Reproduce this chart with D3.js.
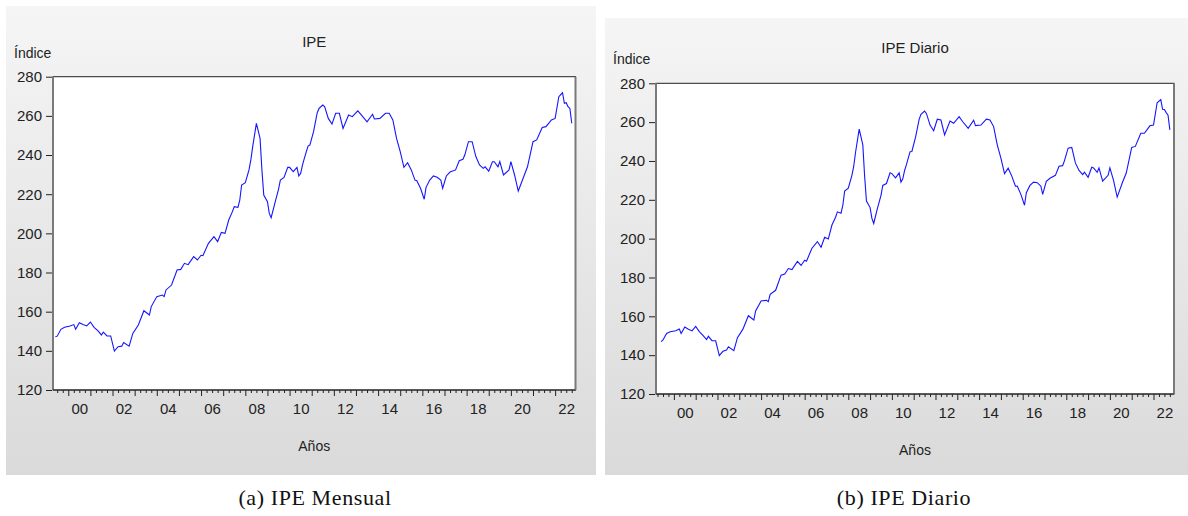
<!DOCTYPE html>
<html>
<head>
<meta charset="utf-8">
<script src="https://cdn.jsdelivr.net/npm/d3@7"></script>
<style>
  body { margin: 0; background: #fff; }
  svg { display: block; }
</style>
</head>
<body>
<svg id="chart" width="1188" height="516"></svg>
<script>
// valores (a) IPE Mensual
var fechasMensual = ["1999-06","1999-07","1999-09","1999-11","2000-02","2000-04","2000-05","2000-07","2000-09","2000-11",
  "2001-01","2001-03","2001-05","2001-07","2001-08","2001-10","2001-12","2002-02","2002-04","2002-06",
  "2002-07","2002-10","2002-12","2003-03","2003-06","2003-09","2003-10","2004-01","2004-04","2004-05",
  "2004-06","2004-09","2004-12","2005-02","2005-04","2005-06","2005-09","2005-11","2006-01","2006-02",
  "2006-05","2006-08","2006-10","2006-12","2007-02","2007-04","2007-06","2007-07","2007-09","2007-10",
  "2007-11","2008-01","2008-03","2008-04","2008-05","2008-07","2008-09","2008-10","2008-11","2009-01",
  "2009-02","2009-03","2009-05","2009-07","2009-08","2009-10","2009-12","2010-01","2010-03","2010-05",
  "2010-06","2010-07","2010-08","2010-09","2010-11","2010-12","2011-02","2011-04","2011-05","2011-07",
  "2011-08","2011-10","2011-12","2012-02","2012-04","2012-06","2012-09","2012-11","2013-02","2013-04",
  "2013-07","2013-10","2013-11","2014-02","2014-05","2014-07","2014-09","2014-11","2015-01","2015-03",
  "2015-05","2015-07","2015-09","2015-10","2015-12","2016-02","2016-03","2016-05","2016-07","2016-09",
  "2016-11","2016-12","2017-02","2017-04","2017-07","2017-09","2017-11","2017-12","2018-02","2018-04",
  "2018-06","2018-08","2018-10","2018-11","2019-01","2019-03","2019-04","2019-06","2019-07","2019-09",
  "2019-12","2020-01","2020-03","2020-05","2020-08","2020-10","2021-01","2021-03","2021-06","2021-08",
  "2021-11","2022-01","2022-03","2022-05","2022-06","2022-07","2022-08","2022-09","2022-10"];
var ipeMensual = [147.2,147.5,151.0,152.0,152.7,153.4,151.0,154.4,153.4,152.7,
  154.7,152.0,150.3,148.1,149.6,147.6,147.6,139.9,142.1,142.4,
  144.2,142.4,148.9,153.2,160.5,158.3,162.6,167.7,168.5,167.7,
  171.1,173.6,181.3,181.6,184.7,184.0,188.1,186.4,188.8,188.6,
  194.9,198.3,195.8,200.5,200.0,206.8,211.1,213.6,213.3,217.0,
  224.7,225.9,232.4,237.5,244.3,256.2,248.5,232.4,219.6,216.2,
  210.2,208.0,215.3,222.5,227.2,228.6,233.7,233.7,231.5,233.7,
  229.3,230.6,234.9,238.3,244.6,245.1,251.9,261.6,263.8,265.5,
  264.7,258.7,255.8,261.3,261.3,253.6,260.4,259.6,262.6,260.4,
  257.0,260.8,258.4,258.7,261.3,261.3,257.9,248.5,241.7,233.7,
  236.1,232.4,227.2,226.9,223.0,217.4,223.5,227.2,229.3,228.6,
  227.2,223.0,229.3,231.3,232.4,237.1,237.8,240.0,246.8,246.8,
  239.2,234.9,233.2,234.0,231.8,236.6,236.6,234.0,236.6,229.8,
  232.4,236.6,229.8,221.6,229.0,234.0,246.8,247.7,254.1,254.5,
  257.9,258.7,269.8,271.8,266.4,266.7,264.7,263.8,256.2];

// valores (b) IPE Diario
var fechasDiario = fechasMensual.slice();
var ipeDiario = [147.0,147.8,151.2,152.1,152.6,153.5,151.2,154.5,153.3,152.5,
  154.8,152.1,150.2,148.0,149.7,147.5,147.4,139.8,142.0,142.6,
  144.3,142.3,149.0,153.4,160.3,158.1,162.8,167.9,168.3,167.6,
  171.3,173.4,181.2,181.8,184.6,184.1,188.3,186.2,188.9,188.4,
  195.1,198.5,195.6,200.7,199.8,207.0,211.0,213.8,213.1,217.2,
  224.5,226.0,232.6,237.3,244.5,256.4,248.3,232.0,219.4,216.0,
  210.4,207.8,215.5,222.3,227.4,228.4,233.9,233.5,231.3,233.9,
  229.1,230.8,235.1,238.1,244.8,244.9,252.1,261.4,264.0,265.7,
  264.5,258.5,255.6,261.5,261.1,253.4,260.6,259.4,262.8,260.2,
  256.8,261.0,258.2,258.5,261.5,261.1,257.7,248.3,241.5,233.5,
  236.3,232.2,227.0,227.1,222.8,217.2,223.7,227.4,229.1,228.8,
  227.0,222.8,229.5,231.1,232.6,237.3,237.6,240.2,246.6,247.0,
  239.0,235.1,233.0,234.2,231.6,236.8,236.4,234.2,236.4,229.6,
  232.6,236.4,230.0,221.4,229.2,233.8,247.0,247.5,254.3,254.3,
  258.1,258.5,270.0,271.6,266.6,266.5,264.9,263.6,256.0];

var ticksY = [120, 140, 160, 180, 200, 220, 240, 260, 280];
var etiquetasAnios = ["00","02","04","06","08","10","12","14","16","18","20","22"];

var paneles = [
  { fondo: [6, 6, 590, 469], plot: [53, 76.7, 575.5, 390], dominio: [1999.31, 2022.92],
    titulo: "IPE", leyenda: "(a) IPE Mensual", leyendaX: 315,
    fechas: fechasMensual, valores: ipeMensual },
  { fondo: [605, 18, 583, 457], plot: [656, 83.3, 1174, 394], dominio: [1999.18, 2022.94],
    titulo: "IPE Diario", leyenda: "(b) IPE Diario", leyendaX: 904,
    fechas: fechasDiario, valores: ipeDiario }
];

var svg = d3.select("#chart");
var sans = "Liberation Sans, Arial, sans-serif";

var grad = svg.append("defs").append("linearGradient")
    .attr("id", "fondo-gris").attr("x1", 0).attr("y1", 0).attr("x2", 0).attr("y2", 1);
grad.append("stop").attr("offset", "0%").attr("stop-color", "#f5f5f5");
grad.append("stop").attr("offset", "100%").attr("stop-color", "#dadada");

function aDecimal(s) {
  var p = s.split("-");
  return +p[0] + (+p[1] - 1) / 12;
}

paneles.forEach(function(p) {
  var x0 = p.plot[0], y0 = p.plot[1], x1 = p.plot[2], y1 = p.plot[3];
  var cx = (x0 + x1) / 2;

  var x = d3.scaleLinear().domain(p.dominio).range([x0, x1]);
  var y = d3.scaleLinear().domain([120, 280]).range([y1, y0]);

  svg.append("rect")
      .attr("x", p.fondo[0]).attr("y", p.fondo[1])
      .attr("width", p.fondo[2]).attr("height", p.fondo[3])
      .attr("fill", "url(#fondo-gris)");

  svg.append("rect")
      .attr("x", x0).attr("y", y0)
      .attr("width", x1 - x0).attr("height", y1 - y0)
      .attr("fill", "#fff").attr("stroke", "#222").attr("stroke-width", 1);

  // bordes grises a la izquierda y derecha
  svg.append("line").attr("x1", x0).attr("x2", x0).attr("y1", y0).attr("y2", y1)
      .attr("stroke", "#7a7a7a").attr("stroke-width", 2);
  svg.append("line").attr("x1", x1).attr("x2", x1).attr("y1", y0).attr("y2", y1)
      .attr("stroke", "#7a7a7a").attr("stroke-width", 2);

  // eje Y
  var ejeY = d3.axisLeft(y).tickValues(ticksY).tickSize(6).tickPadding(4)
      .tickFormat(d3.format("d"));
  var gy = svg.append("g").attr("transform", "translate(" + (x0 - 1) + ",0)").call(ejeY);
  gy.select(".domain").remove();

  // eje X: ticks mayores por año, menores por trimestre
  var anios = d3.range(Math.ceil(p.dominio[0]), Math.floor(p.dominio[1]) + 1);
  var trimestres = d3.range(Math.ceil(p.dominio[0] * 4), Math.floor(p.dominio[1] * 4) + 1)
      .map(function(q) { return q / 4; })
      .filter(function(v) { return v % 1 !== 0; });

  var gMenor = svg.append("g").attr("transform", "translate(0," + y1 + ")")
      .call(d3.axisBottom(x).tickValues(trimestres).tickSize(3).tickFormat(""));
  gMenor.select(".domain").remove();
  var gMayor = svg.append("g").attr("transform", "translate(0," + y1 + ")")
      .call(d3.axisBottom(x).tickValues(anios).tickSize(6).tickFormat(""));
  gMayor.select(".domain").remove();

  var posEtiquetas = etiquetasAnios.map(function(e) { return 2000 + (+e) + 0.5; });
  var gEtiq = svg.append("g").attr("transform", "translate(0," + y1 + ")")
      .call(d3.axisBottom(x).tickValues(posEtiquetas).tickSize(0).tickPadding(13)
        .tickFormat(function(d, i) { return etiquetasAnios[i]; }));
  gEtiq.select(".domain").remove();

  svg.append("line").attr("x1", x0).attr("x2", x1).attr("y1", y1).attr("y2", y1)
      .attr("stroke", "#222").attr("stroke-width", 1);

  svg.selectAll(".tick line").attr("stroke", "#222");
  svg.selectAll(".tick text")
      .attr("font-family", sans).attr("font-size", 15).attr("fill", "#222");

  // serie
  var datos = p.fechas.map(function(f, i) { return { t: aDecimal(f), v: p.valores[i] }; });
  var linea = d3.line().x(function(d) { return x(d.t); }).y(function(d) { return y(d.v); });
  svg.append("path").datum(datos)
      .attr("d", linea)
      .attr("fill", "none").attr("stroke", "#1515ff").attr("stroke-width", 1.1);

  svg.append("text").attr("x", cx).attr("y", y0 - 30)
      .attr("text-anchor", "middle").attr("font-family", sans).attr("font-size", 15)
      .attr("fill", "#222").text(p.titulo);
  svg.append("text").attr("x", p.fondo[0] + 8).attr("y", y0 - 19)
      .attr("font-family", sans).attr("font-size", 14).attr("fill", "#222").text("Índice");
  svg.append("text").attr("x", cx).attr("y", y1 + 61)
      .attr("text-anchor", "middle").attr("font-family", sans).attr("font-size", 14)
      .attr("fill", "#222").text("Años");

  svg.append("text").attr("x", p.leyendaX).attr("y", 505)
      .attr("text-anchor", "middle").attr("font-family", "Liberation Serif, DejaVu Serif, serif")
      .attr("font-size", 22).attr("letter-spacing", 0.6).attr("fill", "#111").text(p.leyenda);
});
</script>
</body>
</html>
